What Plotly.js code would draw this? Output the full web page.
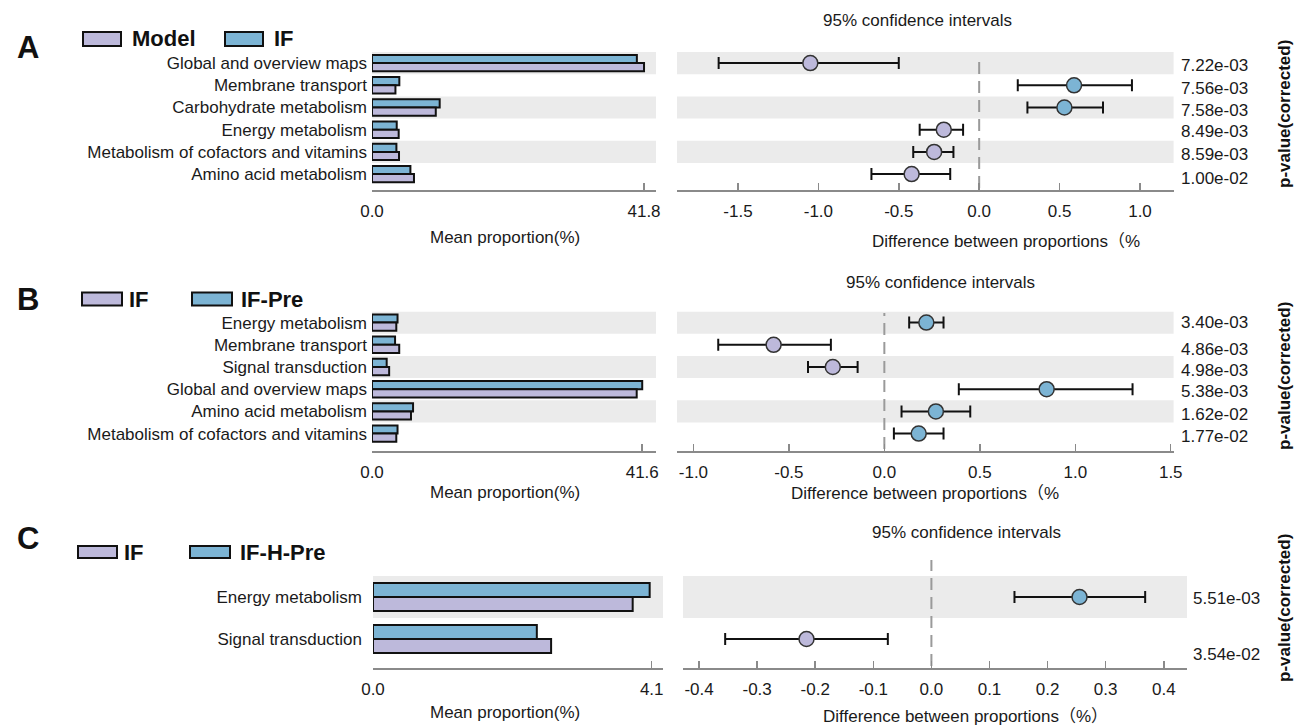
<!DOCTYPE html>
<html><head><meta charset="utf-8">
<script src="https://cdn.plot.ly/plotly-3.0.1.min.js"></script>
<style>html,body{margin:0;padding:0;background:#fff;}#chart{width:1303px;height:725px;}</style>
</head><body><div id="chart"></div>
<script>
// ---------------- Panel A ----------------
const catsA = ['Global and overview maps','Membrane transport','Carbohydrate metabolism','Energy metabolism','Metabolism of cofactors and vitamins','Amino acid metabolism'];
const groupsA = ['Model','IF'];
const modelA = [41.8, 3.6, 9.8, 4.1, 4.15, 6.45];
const ifA = [40.7, 4.2, 10.4, 3.8, 3.75, 5.9];
const diffA = [-1.05, 0.59, 0.53, -0.22, -0.28, -0.42];
const ciLowA = [-1.62, 0.24, 0.30, -0.37, -0.41, -0.67];
const ciHighA = [-0.50, 0.95, 0.77, -0.10, -0.16, -0.18];
const pA = ['7.22e-03','7.56e-03','7.58e-03','8.49e-03','8.59e-03','1.00e-02'];
const maxTickA = 41.8;
const ticksA = [-1.5,-1.0,-0.5,0.0,0.5,1.0];
const xTitleA = 'Difference between proportions（%';

// ---------------- Panel B ----------------
const catsB = ['Energy metabolism','Membrane transport','Signal transduction','Global and overview maps','Amino acid metabolism','Metabolism of cofactors and vitamins'];
const groupsB = ['IF','IF-Pre'];
const ifB = [3.74, 4.19, 2.64, 40.75, 6.0, 3.74];
const ifPreB = [3.93, 3.55, 2.26, 41.6, 6.32, 3.93];
const diffB = [0.22, -0.58, -0.27, 0.85, 0.27, 0.18];
const ciLowB = [0.13, -0.87, -0.40, 0.39, 0.09, 0.05];
const ciHighB = [0.31, -0.28, -0.14, 1.30, 0.45, 0.31];
const pB = ['3.40e-03','4.86e-03','4.98e-03','5.38e-03','1.62e-02','1.77e-02'];
const maxTickB = 41.6;
const ticksB = [-1.0,-0.5,0.0,0.5,1.0,1.5];
const xTitleB = 'Difference between proportions（%';

// ---------------- Panel C ----------------
const catsC = ['Energy metabolism','Signal transduction'];
const groupsC = ['IF','IF-H-Pre'];
const ifC = [3.82, 2.62];
const ifhC = [4.07, 2.41];
const diffC = [0.255, -0.215];
const ciLowC = [0.143, -0.355];
const ciHighC = [0.368, -0.075];
const pC = ['5.51e-03','3.54e-02'];
const maxTickC = 4.1;
const ticksC = [-0.4,-0.3,-0.2,-0.1,0.0,0.1,0.2,0.3,0.4];
const xTitleC = 'Difference between proportions（%）';

const titleCI = '95% confidence intervals';
const titleLeft = 'Mean proportion(%)';
const titleP = 'p-value(corrected)';

// ---------------- styling / layout ----------------
const W = 1303, H = 725;
const FONT = 'Liberation Sans, Arial, Noto Sans CJK SC, sans-serif';
const PURPLE = '#bdb9db', BLUE = '#7cb4d4', BAND = '#ebebeb', AX = '#8a8a8a';
const px = x => x / W;
const py = y => 1 - y / H;

const panels = [
  {letter:'A', cats:catsA, groups:groupsA, g1:modelA, g2:ifA, diff:diffA, lo:ciLowA, hi:ciHighA, p:pA, maxTick:maxTickA, rTicks:ticksA, rTitle:xTitleA,
   L:{top:52, rowH:22.2, axisY:190, left:[372,656], right:[677,1173.6], rRange:[-1.879,1.209], maxFactor:1.044, barW:0.37,
      letterY:47, legY:39, legH:14, sw:[[83,121],[225,263]], tx:[130,272], ci:[917,20], lt:[505,237], rt:[1006,241], pv:114, pvX:1179, pShift:[-2,-3,-3,-2,-3,-4], dashTop:55, ystd:4}},
  {letter:'B', cats:catsB, groups:groupsB, g1:ifB, g2:ifPreB, diff:diffB, lo:ciLowB, hi:ciHighB, p:pB, maxTick:maxTickB, rTicks:ticksB, rTitle:xTitleB,
   L:{top:311.5, rowH:22.2, axisY:451, left:[372,656], right:[677,1173.6], rRange:[-1.086,1.515], maxFactor:1.051, barW:0.37,
      letterY:300, legY:299, legH:13, sw:[[82,122],[192,232]], tx:[127,239], ci:[940,282], lt:[505,492], rt:[925,493], pv:376, pvX:1179, pShift:[0,-5,-3,-2,-3,-3], dashTop:313, ystd:4}},
  {letter:'C', cats:catsC, groups:groupsC, g1:ifC, g2:ifhC, diff:diffC, lo:ciLowC, hi:ciHighC, p:pC, maxTick:maxTickC, rTicks:ticksC, rTitle:xTitleC,
   L:{top:576, rowH:42, axisY:668, left:[373,663], right:[683,1187], rRange:[-0.4276,0.44], maxFactor:1.0405, barW:0.335,
      letterY:538, legY:552, legH:12, sw:[[78,117],[190,230]], tx:[122,238], ci:[966,532], lt:[505,712], rt:[965,716], pv:608, pvX:1191, pShift:[-1,-15], dashTop:560, ystd:10}}
];

const data = [], shapes = [], annotations = [];
const FS = 17;
const layout = {
  width: W, height: H, margin:{l:0,r:0,t:0,b:0}, paper_bgcolor:'#fff', plot_bgcolor:'rgba(0,0,0,0)',
  showlegend:false, barmode:'overlay', font:{family:FONT, size:FS, color:'#1a1a1a'},
  shapes: shapes, annotations: annotations
};
const tf = {family:FONT, size:FS, color:'#1a1a1a'};

panels.forEach((P, k) => {
  const L = P.L, n = P.cats.length;
  const ia = 2*k + 1, ib = 2*k + 2;
  const xa = 'x' + ia, ya = 'y' + ia, xb = 'x' + ib, yb = 'y' + ib;
  const extra = (L.axisY - (L.top + n*L.rowH)) / L.rowH;
  const yRange = [n - 0.5 + extra, -0.5];
  const yDom = [py(L.axisY), py(L.top)];

  // bars: second group (blue) on top, first group (purple) below
  data.push({type:'bar', orientation:'h', x:P.g2, y:P.cats, xaxis:xa, yaxis:ya, name:P.groups[1],
    width:L.barW, offset:-L.barW, marker:{color:BLUE, line:{color:'#111', width:2}}, hoverinfo:'skip'});
  data.push({type:'bar', orientation:'h', x:P.g1, y:P.cats, xaxis:xa, yaxis:ya, name:P.groups[0],
    width:L.barW, offset:0, marker:{color:PURPLE, line:{color:'#111', width:2}}, hoverinfo:'skip'});

  // CI points
  data.push({type:'scatter', mode:'markers', x:P.diff, y:P.cats, xaxis:xb, yaxis:yb, hoverinfo:'skip',
    marker:{size:15, color:P.diff.map(d => d > 0 ? BLUE : PURPLE), line:{color:'#333', width:1.5}},
    error_x:{type:'data', symmetric:false, array:P.hi.map((h,i) => h - P.diff[i]),
             arrayminus:P.diff.map((d,i) => d - P.lo[i]), color:'#111', thickness:2, width:6}});

  layout['xaxis'+ia] = {domain:[px(L.left[0]), px(L.left[1])], anchor:ya, range:[0, P.maxTick*L.maxFactor],
    tickvals:[0, P.maxTick], ticktext:['0.0', P.maxTick.toFixed(1)], ticks:'inside', ticklen:7, tickwidth:1.5, tickcolor:AX,
    showline:true, linecolor:AX, linewidth:2, showgrid:false, zeroline:false, tickfont:tf, ticklabelstandoff:5, fixedrange:true};
  layout['yaxis'+ia] = {domain:yDom, anchor:xa, type:'category', categoryorder:'array', categoryarray:P.cats, range:yRange,
    showgrid:false, zeroline:false, showline:false, ticks:'', tickfont:tf, ticklabelstandoff:L.ystd, fixedrange:true};
  layout['xaxis'+ib] = {domain:[px(L.right[0]), px(L.right[1])], anchor:yb, range:L.rRange,
    tickvals:P.rTicks, ticktext:P.rTicks.map(v => v.toFixed(1)), ticks:'inside', ticklen:7, tickwidth:1.5, tickcolor:AX,
    showline:true, linecolor:AX, linewidth:2, showgrid:false, zeroline:false, tickfont:tf, ticklabelstandoff:5, fixedrange:true};
  layout['yaxis'+ib] = {domain:yDom, anchor:xb, type:'category', categoryorder:'array', categoryarray:P.cats, range:yRange,
    showgrid:false, zeroline:false, showline:false, ticks:'', showticklabels:false, fixedrange:true};

  // alternating bands
  P.cats.forEach((c, i) => {
    if (i % 2 === 0) {
      [[xa, ya], [xb, yb]].forEach(([xr, yr]) => {
        shapes.push({type:'rect', layer:'below', xref:xr + ' domain', yref:yr, x0:0, x1:1, y0:i - 0.5, y1:i + 0.5,
          fillcolor:BAND, line:{width:0}});
      });
    }
  });
  // zero dashed line
  shapes.push({type:'line', layer:'below', xref:xb, yref:'paper', x0:0, x1:0, y0:py(L.axisY - 2), y1:py(L.dashTop),
    line:{color:'#9a9a9a', width:2, dash:'12px,7px'}});

  // legend swatches
  [PURPLE, BLUE].forEach((col, j) => {
    shapes.push({type:'rect', xref:'paper', yref:'paper', x0:px(L.sw[j][0]), x1:px(L.sw[j][1]),
      y0:py(L.legY + L.legH/2), y1:py(L.legY - L.legH/2), fillcolor:col, line:{color:'#111', width:2}});
    annotations.push({xref:'paper', yref:'paper', x:px(L.tx[j]), y:py(L.legY), xanchor:'left', yanchor:'middle',
      text:'<b>' + P.groups[j] + '</b>', showarrow:false, font:{family:FONT, size:22, color:'#111'}});
  });
  // panel letter
  annotations.push({xref:'paper', yref:'paper', x:px(28), y:py(L.letterY), xanchor:'center', yanchor:'middle',
    text:'<b>' + P.letter + '</b>', showarrow:false, font:{family:FONT, size:31, color:'#111'}});
  // titles
  annotations.push({xref:'paper', yref:'paper', x:px(L.ci[0]), y:py(L.ci[1]), xanchor:'center', yanchor:'middle',
    text:titleCI, showarrow:false, font:tf});
  annotations.push({xref:'paper', yref:'paper', x:px(L.lt[0]), y:py(L.lt[1]), xanchor:'center', yanchor:'middle',
    text:titleLeft, showarrow:false, font:tf});
  annotations.push({xref:'paper', yref:'paper', x:px(L.rt[0]), y:py(L.rt[1]), xanchor:'center', yanchor:'middle',
    text:P.rTitle, showarrow:false, font:tf});
  // p-values
  P.p.forEach((t, i) => {
    annotations.push({xref:'paper', yref:yb, x:px(L.pvX), y:i, xanchor:'left', yanchor:'middle', yshift:L.pShift[i],
      text:t, showarrow:false, font:tf});
  });
  annotations.push({xref:'paper', yref:'paper', x:px(1284), y:py(L.pv), xanchor:'center', yanchor:'middle', textangle:-90,
    text:'<b>' + titleP + '</b>', showarrow:false, font:{family:FONT, size:17, color:'#111'}});
});

Plotly.newPlot('chart', data, layout, {staticPlot:true, displayModeBar:false});
</script>
</body></html>
